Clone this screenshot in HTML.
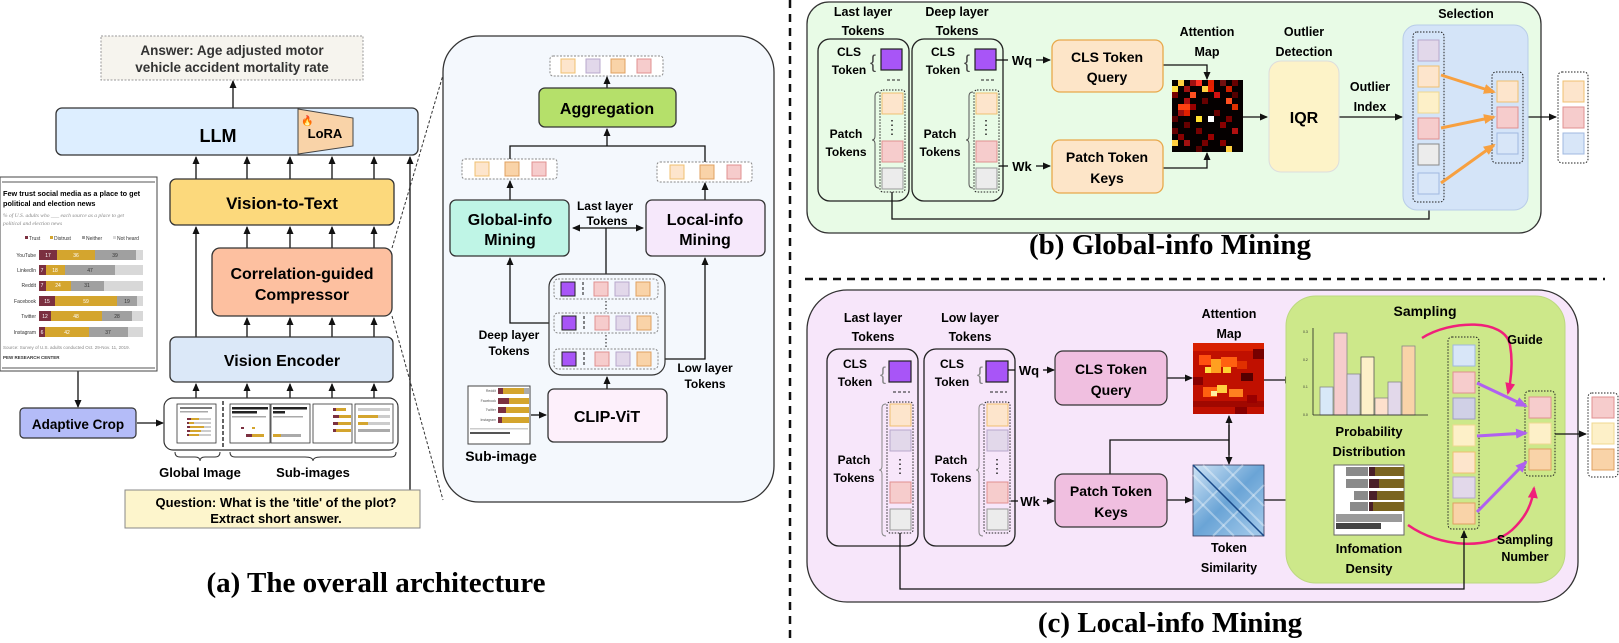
<!DOCTYPE html>
<html><head><meta charset="utf-8"><style>
html,body{margin:0;padding:0;background:#fff;}
svg{display:block;font-family:"Liberation Sans",Arial,sans-serif;}
.b{font-weight:bold;}
.t{font-family:"Liberation Serif",serif;font-weight:bold;}
</style></head><body>
<svg width="1619" height="643" viewBox="0 0 1619 643" xmlns="http://www.w3.org/2000/svg">
<defs>
<marker id="ar" markerWidth="8" markerHeight="8" refX="7" refY="4" orient="auto" markerUnits="userSpaceOnUse"><path d="M0,0.5 L8,4 L0,7.5 z" fill="#111"/></marker>
<marker id="ar2" markerWidth="8" markerHeight="8" refX="1" refY="4" orient="auto" markerUnits="userSpaceOnUse"><path d="M8,0.5 L0,4 L8,7.5 z" fill="#111"/></marker>
<marker id="ao" markerWidth="12" markerHeight="12" refX="10" refY="6" orient="auto" markerUnits="userSpaceOnUse"><path d="M0,1 L12,6 L0,11 z" fill="#f7a040"/></marker>
<marker id="ap" markerWidth="12" markerHeight="12" refX="10" refY="6" orient="auto" markerUnits="userSpaceOnUse"><path d="M0,1 L12,6 L0,11 z" fill="#b060f0"/></marker>
<marker id="am" markerWidth="12" markerHeight="12" refX="10" refY="6" orient="auto" markerUnits="userSpaceOnUse"><path d="M0,1 L12,6 L0,11 z" fill="#f0207a"/></marker>
<linearGradient id="sim" x1="0" y1="0" x2="1" y2="1"><stop offset="0" stop-color="#cfe3f5"/><stop offset="0.5" stop-color="#6aa4d6"/><stop offset="1" stop-color="#a8cdec"/></linearGradient>
</defs>

<!-- ============ PANEL A ============ -->
<rect x="101" y="36" width="262" height="44" fill="#f6f4ee" stroke="#999" stroke-dasharray="2,1.5"/>
<text x="232" y="55" text-anchor="middle" font-size="13.5" class="b" fill="#333">Answer: Age adjusted motor</text>
<text x="232" y="72" text-anchor="middle" font-size="13.5" class="b" fill="#333">vehicle accident mortality rate</text>
<line x1="233" y1="108" x2="233" y2="81" stroke="#111" stroke-width="1.3" marker-end="url(#ar)"/>

<rect x="56" y="108" width="362" height="47" rx="6" fill="#ddeeff" stroke="#333" stroke-width="1.3"/>
<text x="218" y="142" text-anchor="middle" font-size="18" class="b">LLM</text>
<polygon points="298,109 353,118 353,146 298,154" fill="#f9d3a8" stroke="#444" stroke-width="1"/>
<text x="325" y="138" text-anchor="middle" font-size="13" class="b">LoRA</text>
<text x="301" y="124" font-size="10">🔥</text>

<g stroke="#111" stroke-width="1.3" fill="none">
<line x1="196" y1="179" x2="196" y2="157" marker-end="url(#ar)"/>
<line x1="247" y1="179" x2="247" y2="157" marker-end="url(#ar)"/>
<line x1="290" y1="179" x2="290" y2="157" marker-end="url(#ar)"/>
<line x1="332" y1="179" x2="332" y2="157" marker-end="url(#ar)"/>
<line x1="374" y1="179" x2="374" y2="157" marker-end="url(#ar)"/>
<line x1="410" y1="490" x2="410" y2="157" marker-end="url(#ar)"/>
<line x1="196" y1="337" x2="196" y2="227" marker-end="url(#ar)"/>
<line x1="247" y1="248" x2="247" y2="227" marker-end="url(#ar)"/>
<line x1="290" y1="248" x2="290" y2="227" marker-end="url(#ar)"/>
<line x1="332" y1="248" x2="332" y2="227" marker-end="url(#ar)"/>
<line x1="374" y1="248" x2="374" y2="227" marker-end="url(#ar)"/>
<line x1="247" y1="337" x2="247" y2="318" marker-end="url(#ar)"/>
<line x1="290" y1="337" x2="290" y2="318" marker-end="url(#ar)"/>
<line x1="332" y1="337" x2="332" y2="318" marker-end="url(#ar)"/>
<line x1="374" y1="337" x2="374" y2="318" marker-end="url(#ar)"/>
<line x1="196" y1="398" x2="196" y2="384" marker-end="url(#ar)"/>
<line x1="247" y1="398" x2="247" y2="384" marker-end="url(#ar)"/>
<line x1="290" y1="398" x2="290" y2="384" marker-end="url(#ar)"/>
<line x1="332" y1="398" x2="332" y2="384" marker-end="url(#ar)"/>
<line x1="374" y1="398" x2="374" y2="384" marker-end="url(#ar)"/>
<line x1="78" y1="363" x2="78" y2="407" marker-end="url(#ar)"/>
<line x1="137" y1="423" x2="163" y2="423" marker-end="url(#ar)"/>
</g>

<rect x="170" y="179" width="224" height="46" rx="6" fill="#fcd97c" stroke="#333" stroke-width="1.3"/>
<text x="282" y="209" text-anchor="middle" font-size="17" class="b">Vision-to-Text</text>
<rect x="212" y="248" width="180" height="68" rx="8" fill="#fdc0a0" stroke="#333" stroke-width="1.3"/>
<text x="302" y="279" text-anchor="middle" font-size="16" class="b">Correlation-guided</text>
<text x="302" y="300" text-anchor="middle" font-size="16" class="b">Compressor</text>
<rect x="170" y="337" width="223" height="45" rx="6" fill="#dbe8f8" stroke="#333" stroke-width="1.3"/>
<text x="282" y="366" text-anchor="middle" font-size="16" class="b">Vision Encoder</text>

<!-- chart -->
<g>
<rect x="0" y="177" width="157" height="194" fill="#fff" stroke="#444" stroke-width="1"/>
<line x1="2" y1="182" x2="155" y2="182" stroke="#555"/>
<text x="3" y="196" font-size="7.3" class="b">Few trust social media as a place to get</text>
<text x="3" y="206" font-size="7.3" class="b">political and election news</text>
<text x="3" y="217" font-size="5.5" font-style="italic" fill="#888" font-family="Liberation Serif">% of U.S. adults who ___ each source as a place to get</text>
<text x="3" y="225" font-size="5.5" font-style="italic" fill="#888" font-family="Liberation Serif">political and election news</text>
<g font-size="5" fill="#333">
<rect x="25" y="236" width="3" height="3" fill="#7b3040"/><text x="29" y="240">Trust</text>
<rect x="50" y="236" width="3" height="3" fill="#d4a52e"/><text x="54" y="240">Distrust</text>
<rect x="82" y="236" width="3" height="3" fill="#a0a0a0"/><text x="86" y="240">Neither</text>
<rect x="113" y="236" width="3" height="3" fill="#d8d8d8"/><text x="117" y="240">Not heard</text>
</g>
<g font-size="5" fill="#333" text-anchor="end">
<text x="36" y="257">YouTube</text><text x="36" y="272">LinkedIn</text><text x="36" y="287">Reddit</text>
<text x="36" y="303">Facebook</text><text x="36" y="318">Twitter</text><text x="36" y="334">Instagram</text>
</g>
<g>
<rect x="39" y="250" width="104" height="10" fill="#d8d8d8"/><rect x="39" y="250" width="18" height="10" fill="#7b3040"/><rect x="57" y="250" width="38" height="10" fill="#d4a52e"/><rect x="95" y="250" width="41" height="10" fill="#a0a0a0"/>
<rect x="39" y="265" width="104" height="10" fill="#d8d8d8"/><rect x="39" y="265" width="7" height="10" fill="#7b3040"/><rect x="46" y="265" width="19" height="10" fill="#d4a52e"/><rect x="65" y="265" width="50" height="10" fill="#a0a0a0"/>
<rect x="39" y="281" width="104" height="10" fill="#d8d8d8"/><rect x="39" y="281" width="7" height="10" fill="#7b3040"/><rect x="46" y="281" width="25" height="10" fill="#d4a52e"/><rect x="71" y="281" width="33" height="10" fill="#a0a0a0"/>
<rect x="39" y="296" width="104" height="10" fill="#d8d8d8"/><rect x="39" y="296" width="16" height="10" fill="#7b3040"/><rect x="55" y="296" width="62" height="10" fill="#d4a52e"/><rect x="117" y="296" width="20" height="10" fill="#a0a0a0"/>
<rect x="39" y="311" width="104" height="10" fill="#d8d8d8"/><rect x="39" y="311" width="12" height="10" fill="#7b3040"/><rect x="51" y="311" width="51" height="10" fill="#d4a52e"/><rect x="102" y="311" width="30" height="10" fill="#a0a0a0"/>
<rect x="39" y="327" width="104" height="10" fill="#d8d8d8"/><rect x="39" y="327" width="6" height="10" fill="#7b3040"/><rect x="45" y="327" width="44" height="10" fill="#d4a52e"/><rect x="89" y="327" width="39" height="10" fill="#a0a0a0"/>
</g>
<g font-size="5" fill="#fff" text-anchor="middle">
<text x="48" y="257">17</text><text x="76" y="257">36</text><text x="115" y="257" fill="#333">39</text>
<text x="42" y="272">7</text><text x="55" y="272">18</text><text x="90" y="272" fill="#333">47</text>
<text x="42" y="287">7</text><text x="58" y="287">24</text><text x="87" y="287" fill="#333">31</text>
<text x="47" y="303">15</text><text x="86" y="303">59</text><text x="127" y="303" fill="#333">19</text>
<text x="45" y="318">12</text><text x="76" y="318">48</text><text x="117" y="318" fill="#333">28</text>
<text x="42" y="334">6</text><text x="67" y="334">42</text><text x="108" y="334" fill="#333">37</text>
</g>
<text x="3" y="349" font-size="4.5" fill="#888">Source: Survey of U.S. adults conducted Oct. 29-Nov. 11, 2019.</text>
<text x="3" y="359" font-size="4.5" class="b" fill="#333">PEW RESEARCH CENTER</text>
<line x1="2" y1="368" x2="155" y2="368" stroke="#555"/>
</g>

<rect x="20" y="408" width="116" height="30" rx="4" fill="#b4bcf8" stroke="#333" stroke-width="1.2"/>
<text x="78" y="429" text-anchor="middle" font-size="13.5" class="b">Adaptive Crop</text>

<rect x="164" y="398" width="234" height="52" rx="9" fill="#fff" stroke="#333" stroke-width="1.2"/>
<line x1="223" y1="401" x2="223" y2="447" stroke="#111" stroke-width="1.3" stroke-dasharray="4,2"/>
<g stroke="#333" stroke-width="0.8">
<rect x="177" y="404" width="39" height="39" fill="#fff"/>
<rect x="230" y="404" width="40" height="39" fill="#fff"/>
<rect x="271" y="404" width="39" height="39" fill="#fff"/>
<rect x="313" y="404" width="39" height="39" fill="#fff"/>
<rect x="355" y="404" width="38" height="39" fill="#fff"/>
</g>
<g>
<rect x="180" y="407" width="32" height="2" fill="#777"/><rect x="180" y="411" width="28" height="1.5" fill="#aaa"/>
<rect x="187" y="418" width="24" height="2" fill="#ccc"/><rect x="187" y="418" width="4" height="2" fill="#7b3040"/><rect x="191" y="418" width="8" height="2" fill="#d4a52e"/>
<rect x="187" y="422" width="24" height="2" fill="#ccc"/><rect x="187" y="422" width="2" height="2" fill="#7b3040"/><rect x="189" y="422" width="5" height="2" fill="#d4a52e"/>
<rect x="187" y="426" width="24" height="2" fill="#ccc"/><rect x="187" y="426" width="3" height="2" fill="#7b3040"/><rect x="190" y="426" width="14" height="2" fill="#d4a52e"/>
<rect x="187" y="430" width="24" height="2" fill="#ccc"/><rect x="187" y="430" width="3" height="2" fill="#7b3040"/><rect x="190" y="430" width="11" height="2" fill="#d4a52e"/>
<rect x="187" y="434" width="24" height="2" fill="#ccc"/><rect x="187" y="434" width="2" height="2" fill="#7b3040"/><rect x="189" y="434" width="10" height="2" fill="#d4a52e"/>
<rect x="232" y="407" width="36" height="2.5" fill="#222"/><rect x="232" y="411" width="25" height="2.5" fill="#222"/><rect x="232" y="416" width="34" height="1.5" fill="#aaa"/>
<rect x="241" y="427" width="3" height="2" fill="#7b3040"/><rect x="252" y="427" width="3" height="2" fill="#d4a52e"/>
<rect x="246" y="434" width="6" height="3" fill="#7b3040"/><rect x="252" y="434" width="12" height="3" fill="#d4a52e"/>
<rect x="273" y="407" width="34" height="2.5" fill="#222"/><rect x="273" y="411" width="12" height="2.5" fill="#222"/><rect x="273" y="416" width="30" height="1.5" fill="#aaa"/>
<rect x="273" y="434" width="8" height="3" fill="#d4a52e"/><rect x="281" y="434" width="20" height="3" fill="#aaa"/>
<rect x="333" y="408" width="3" height="3" fill="#7b3040"/><rect x="336" y="408" width="10" height="3" fill="#d4a52e"/>
<rect x="333" y="415" width="6" height="3" fill="#7b3040"/><rect x="339" y="415" width="12" height="3" fill="#d4a52e"/>
<rect x="333" y="422" width="5" height="3" fill="#7b3040"/><rect x="338" y="422" width="13" height="3" fill="#d4a52e"/>
<rect x="333" y="429" width="3" height="3" fill="#7b3040"/><rect x="336" y="429" width="15" height="3" fill="#d4a52e"/>
<rect x="358" y="408" width="32" height="3" fill="#ccc"/><rect x="358" y="415" width="32" height="3" fill="#ccc"/><rect x="358" y="415" width="20" height="3" fill="#d4a52e"/>
<rect x="358" y="422" width="32" height="3" fill="#ccc"/><rect x="358" y="422" width="10" height="3" fill="#d4a52e"/>
<rect x="358" y="429" width="32" height="3" fill="#aaa"/>
</g>
<path d="M175,452 q0,5 5,5 h15 q5,0 5,4 q0,-4 5,-4 h10 q5,0 5,-5" fill="none" stroke="#333" stroke-width="1"/>
<path d="M230,452 q0,5 5,5 h70 q8,0 8,4 q0,-4 8,-4 h70 q5,0 5,-5" fill="none" stroke="#333" stroke-width="1"/>
<text x="200" y="477" text-anchor="middle" font-size="13" class="b">Global Image</text>
<text x="313" y="477" text-anchor="middle" font-size="13" class="b">Sub-images</text>

<rect x="125" y="490" width="295" height="38" fill="#fdf5cc" stroke="#888" stroke-width="1"/>
<text x="276" y="507" text-anchor="middle" font-size="13" class="b">Question: What is the 'title' of the plot?</text>
<text x="276" y="523" text-anchor="middle" font-size="13" class="b">Extract short answer.</text>

<line x1="392" y1="248" x2="443" y2="75" stroke="#333" stroke-width="1" stroke-dasharray="3,2"/>
<line x1="392" y1="316" x2="443" y2="500" stroke="#333" stroke-width="1" stroke-dasharray="3,2"/>

<!-- zoom panel -->
<rect x="443" y="36" width="331" height="466" rx="36" fill="#f4f8fd" stroke="#333" stroke-width="1.3"/>
<rect x="550" y="56" width="113" height="20" rx="3" fill="#fff" stroke="#888" stroke-dasharray="2,1.5"/>
<rect x="561" y="59" width="14" height="14" fill="#fde5cc" stroke="#f0c070"/>
<rect x="586" y="59" width="14" height="14" fill="#e2d8ea" stroke="#b8a8cc"/>
<rect x="611" y="59" width="14" height="14" fill="#f9d3a8" stroke="#e0a060"/>
<rect x="637" y="59" width="14" height="14" fill="#f6cccc" stroke="#e09090"/>
<line x1="607" y1="88" x2="607" y2="77" stroke="#111" stroke-width="1.3" marker-end="url(#ar)"/>
<rect x="539" y="88" width="137" height="39" rx="6" fill="#b5e06a" stroke="#333" stroke-width="1.3"/>
<text x="607" y="114" text-anchor="middle" font-size="16" class="b">Aggregation</text>
<g stroke="#111" stroke-width="1.3" fill="none">
<line x1="607" y1="146" x2="607" y2="129" marker-end="url(#ar)"/>
<polyline points="510,159 510,146 705,146 705,162"/>
<line x1="510" y1="200" x2="510" y2="181" marker-end="url(#ar)"/>
<line x1="705" y1="200" x2="705" y2="183" marker-end="url(#ar)"/>
<line x1="573" y1="228" x2="643" y2="228" marker-start="url(#ar2)" marker-end="url(#ar)"/>
<line x1="606" y1="228" x2="606" y2="279"/>
<polyline points="554,323 510,323 510,258" marker-end="url(#ar)"/>
<polyline points="658,359 705,359 705,258" marker-end="url(#ar)"/>
<line x1="607" y1="389" x2="607" y2="377" marker-end="url(#ar)"/>
<line x1="531" y1="415" x2="546" y2="415" marker-end="url(#ar)"/>
</g>
<rect x="462" y="159" width="95" height="20" rx="3" fill="#fff" stroke="#888" stroke-dasharray="2,1.5"/>
<rect x="475" y="162" width="14" height="14" fill="#fde5cc" stroke="#f0c070"/>
<rect x="505" y="162" width="14" height="14" fill="#f9d3a8" stroke="#e0a060"/>
<rect x="532" y="162" width="14" height="14" fill="#f6cccc" stroke="#e09090"/>
<rect x="657" y="162" width="95" height="20" rx="3" fill="#fff" stroke="#888" stroke-dasharray="2,1.5"/>
<rect x="670" y="165" width="14" height="14" fill="#fde5cc" stroke="#f0c070"/>
<rect x="700" y="165" width="14" height="14" fill="#f9d3a8" stroke="#e0a060"/>
<rect x="727" y="165" width="14" height="14" fill="#f6cccc" stroke="#e09090"/>
<rect x="450" y="200" width="119" height="56" rx="6" fill="#bff5e6" stroke="#333" stroke-width="1.3"/>
<text x="510" y="225" text-anchor="middle" font-size="16" class="b">Global-info</text>
<text x="510" y="245" text-anchor="middle" font-size="16" class="b">Mining</text>
<rect x="646" y="200" width="119" height="56" rx="6" fill="#f6e8fb" stroke="#333" stroke-width="1.3"/>
<text x="705" y="225" text-anchor="middle" font-size="16" class="b">Local-info</text>
<text x="705" y="245" text-anchor="middle" font-size="16" class="b">Mining</text>
<text x="605" y="210" text-anchor="middle" font-size="12" class="b">Last layer</text>
<text x="607" y="225" text-anchor="middle" font-size="12" class="b">Tokens</text>
<rect x="549" y="274" width="116" height="101" rx="13" fill="#f4f8fd" stroke="#333" stroke-width="1.2"/>
<g>
<rect x="554" y="279" width="104" height="20" rx="4" fill="#f4f8fd" stroke="#888" stroke-dasharray="2,1.5"/>
<rect x="554" y="313" width="104" height="20" rx="4" fill="#f4f8fd" stroke="#888" stroke-dasharray="2,1.5"/>
<rect x="554" y="349" width="104" height="20" rx="4" fill="#f4f8fd" stroke="#888" stroke-dasharray="2,1.5"/>
<rect x="561" y="282" width="14" height="14" fill="#a855f7" stroke="#222"/>
<rect x="562" y="316" width="14" height="14" fill="#a855f7" stroke="#222"/>
<rect x="562" y="352" width="14" height="14" fill="#a855f7" stroke="#222"/>
<g stroke="#111" stroke-dasharray="3,2"><line x1="583" y1="282" x2="583" y2="297"/><line x1="584" y1="316" x2="584" y2="331"/><line x1="584" y1="352" x2="584" y2="367"/></g>
<rect x="594" y="282" width="14" height="14" fill="#f6cccc" stroke="#e09090"/><rect x="615" y="282" width="14" height="14" fill="#e2d8ea" stroke="#b8a8cc"/><rect x="636" y="282" width="14" height="14" fill="#f9d3a8" stroke="#e0a060"/>
<rect x="595" y="316" width="14" height="14" fill="#f6cccc" stroke="#e09090"/><rect x="616" y="316" width="14" height="14" fill="#e2d8ea" stroke="#b8a8cc"/><rect x="637" y="316" width="14" height="14" fill="#f9d3a8" stroke="#e0a060"/>
<rect x="595" y="352" width="14" height="14" fill="#f6cccc" stroke="#e09090"/><rect x="616" y="352" width="14" height="14" fill="#e2d8ea" stroke="#b8a8cc"/><rect x="637" y="352" width="14" height="14" fill="#f9d3a8" stroke="#e0a060"/>
<g stroke="#111" stroke-dasharray="1.5,2"><line x1="606" y1="301" x2="606" y2="312"/><line x1="606" y1="335" x2="606" y2="348"/></g>
</g>
<text x="509" y="339" text-anchor="middle" font-size="12" class="b">Deep layer</text>
<text x="509" y="355" text-anchor="middle" font-size="12" class="b">Tokens</text>
<text x="705" y="372" text-anchor="middle" font-size="12" class="b">Low layer</text>
<text x="705" y="388" text-anchor="middle" font-size="12" class="b">Tokens</text>
<rect x="548" y="389" width="119" height="53" rx="6" fill="#fdf0fb" stroke="#333" stroke-width="1.3"/>
<text x="607" y="422" text-anchor="middle" font-size="16" class="b">CLIP-ViT</text>
<rect x="468" y="386" width="62" height="58" fill="#fff" stroke="#444"/>
<g font-size="3.5" fill="#555" text-anchor="end"><text x="496" y="392">Reddit</text><text x="496" y="402">Facebook</text><text x="496" y="411">Twitter</text><text x="496" y="421">Instagram</text></g>
<rect x="498" y="388" width="5" height="6" fill="#7b3040"/><rect x="503" y="388" width="21" height="6" fill="#d4a52e"/><rect x="524" y="388" width="5" height="6" fill="#aaa"/>
<rect x="498" y="398" width="11" height="6" fill="#7b3040"/><rect x="509" y="398" width="20" height="6" fill="#d4a52e"/>
<rect x="498" y="407" width="8" height="6" fill="#7b3040"/><rect x="506" y="407" width="23" height="6" fill="#d4a52e"/>
<rect x="498" y="417" width="4" height="6" fill="#7b3040"/><rect x="502" y="417" width="27" height="6" fill="#d4a52e"/>
<rect x="470" y="428" width="58" height="1.5" fill="#ccc"/><rect x="470" y="432" width="40" height="2" fill="#555"/>
<text x="501" y="461" text-anchor="middle" font-size="14" class="b">Sub-image</text>

<text x="376" y="592" text-anchor="middle" font-size="29" class="t">(a) The overall architecture</text>

<!-- dividers -->
<line x1="790" y1="0" x2="790" y2="643" stroke="#111" stroke-width="2.5" stroke-dasharray="8,6"/>
<line x1="805" y1="279" x2="1605" y2="279" stroke="#111" stroke-width="2.5" stroke-dasharray="8,6"/>

<!-- ============ PANEL B ============ -->
<rect x="807" y="2" width="734" height="231" rx="22" fill="#e8fbe6" stroke="#333" stroke-width="1.3"/>
<g class="b" font-size="12.5" text-anchor="middle">
<text x="863" y="16">Last layer</text><text x="863" y="35">Tokens</text>
<text x="957" y="16">Deep layer</text><text x="957" y="35">Tokens</text>
<text x="1207" y="36">Attention</text><text x="1207" y="56">Map</text>
<text x="1304" y="36">Outlier</text><text x="1304" y="56">Detection</text>
<text x="1370" y="91">Outlier</text><text x="1370" y="111">Index</text>
<text x="1466" y="18">Selection</text>
</g>
<g id="grpB">
<rect x="818" y="39" width="91" height="162" rx="12" fill="none" stroke="#222" stroke-width="1.3"/>
<text x="849" y="56" text-anchor="middle" font-size="12" class="b">CLS</text>
<text x="849" y="74" text-anchor="middle" font-size="12" class="b">Token</text>
<text x="870" y="68" font-size="18" fill="#444">{</text>
<rect x="881" y="49" width="21" height="21" fill="#a855f7" stroke="#222" stroke-width="1.2"/>
<line x1="887" y1="80" x2="902" y2="80" stroke="#222" stroke-dasharray="3,2"/>
<text x="846" y="138" text-anchor="middle" font-size="12" class="b">Patch</text>
<text x="846" y="156" text-anchor="middle" font-size="12" class="b">Tokens</text>
<path d="M879,92 q-4,0 -4,4 v40 q0,4 -3,4 q3,0 3,4 v40 q0,4 4,4" fill="none" stroke="#555"/>
<rect x="880" y="90" width="25" height="102" rx="3" fill="none" stroke="#222" stroke-dasharray="1.5,1.5"/>
<rect x="882" y="93" width="21" height="21" fill="#fde5cc" stroke="#f0c070"/>
<line x1="892" y1="120" x2="892" y2="137" stroke="#222" stroke-width="1.5" stroke-dasharray="1.5,3"/>
<rect x="882" y="141" width="21" height="21" fill="#f6cccc" stroke="#e09090"/>
<rect x="882" y="168" width="21" height="21" fill="#ececec" stroke="#999"/>
</g>
<use href="#grpB" x="94"/>
<g stroke="#111" stroke-width="1.3" fill="none">
<polyline points="996,60 1008,60"/><line x1="1036" y1="60" x2="1050" y2="60" marker-end="url(#ar)"/>
<polyline points="999,166 1008,166"/><line x1="1036" y1="166" x2="1050" y2="166" marker-end="url(#ar)"/>
<polyline points="1163,65 1207,65 1207,79" marker-end="url(#ar)"/>
<polyline points="1163,168 1207,168 1207,153" marker-end="url(#ar)"/>
<line x1="1243" y1="117" x2="1267" y2="117" marker-end="url(#ar)"/>
<line x1="1339" y1="117" x2="1402" y2="117" marker-end="url(#ar)"/>
<polyline points="892,192 892,219 1429,219 1429,203" marker-end="url(#ar)"/>
<line x1="1523" y1="117" x2="1556" y2="117" marker-end="url(#ar)"/>
</g>
<text x="1022" y="65" text-anchor="middle" font-size="13" class="b">Wq</text>
<text x="1022" y="171" text-anchor="middle" font-size="13" class="b">Wk</text>
<rect x="1052" y="40" width="111" height="52" rx="8" fill="#fde5c8" stroke="#e8a84a" stroke-width="1.3"/>
<text x="1107" y="62" text-anchor="middle" font-size="14" class="b">CLS Token</text>
<text x="1107" y="82" text-anchor="middle" font-size="14" class="b">Query</text>
<rect x="1052" y="140" width="111" height="53" rx="8" fill="#fde5c8" stroke="#e8a84a" stroke-width="1.3"/>
<text x="1107" y="162" text-anchor="middle" font-size="14" class="b">Patch Token</text>
<text x="1107" y="183" text-anchor="middle" font-size="14" class="b">Keys</text>
<!-- attention map b -->
<rect x="1172" y="80" width="71" height="72" fill="#050000"/>
<g>
<rect x="1178" y="80" width="6" height="6" fill="#ffd040"/><rect x="1190" y="80" width="6" height="6" fill="#a01010"/><rect x="1196" y="80" width="6" height="6" fill="#ff3020"/><rect x="1208" y="80" width="6" height="6" fill="#e02000"/><rect x="1220" y="80" width="6" height="6" fill="#701010"/><rect x="1232" y="80" width="6" height="6" fill="#600"/>
<rect x="1172" y="86" width="6" height="6" fill="#ffe040"/><rect x="1184" y="86" width="6" height="6" fill="#a01010"/><rect x="1202" y="86" width="6" height="6" fill="#ffd040"/><rect x="1226" y="86" width="6" height="6" fill="#d02000"/><rect x="1208" y="86" width="6" height="6" fill="#e62000"/>
<rect x="1172" y="92" width="6" height="6" fill="#700"/><rect x="1190" y="92" width="6" height="6" fill="#ff5020"/><rect x="1214" y="92" width="6" height="6" fill="#d01010"/><rect x="1232" y="92" width="6" height="6" fill="#500"/>
<rect x="1184" y="98" width="6" height="6" fill="#b01010"/><rect x="1202" y="98" width="6" height="6" fill="#600"/><rect x="1226" y="98" width="6" height="6" fill="#ff5020"/>
<rect x="1178" y="104" width="12" height="6" fill="#ff4010"/><rect x="1190" y="104" width="6" height="6" fill="#900"/><rect x="1232" y="104" width="6" height="6" fill="#e03000"/>
<rect x="1178" y="110" width="6" height="6" fill="#a01010"/><rect x="1184" y="110" width="6" height="6" fill="#e02000"/><rect x="1214" y="110" width="6" height="6" fill="#600"/>
<rect x="1172" y="116" width="6" height="6" fill="#500"/><rect x="1196" y="116" width="6" height="6" fill="#ffe030"/><rect x="1208" y="116" width="6" height="6" fill="#fff"/><rect x="1226" y="116" width="6" height="6" fill="#700"/>
<rect x="1184" y="122" width="6" height="6" fill="#600"/><rect x="1220" y="122" width="6" height="6" fill="#800"/>
<rect x="1172" y="128" width="6" height="6" fill="#600"/><rect x="1196" y="128" width="6" height="6" fill="#700"/><rect x="1232" y="128" width="6" height="6" fill="#b01010"/>
<rect x="1178" y="134" width="6" height="6" fill="#800"/><rect x="1208" y="134" width="6" height="6" fill="#900"/>
<rect x="1172" y="140" width="6" height="6" fill="#ffd040"/><rect x="1184" y="140" width="6" height="6" fill="#a01010"/><rect x="1202" y="140" width="6" height="6" fill="#700"/><rect x="1220" y="140" width="6" height="6" fill="#800"/>
<rect x="1226" y="146" width="6" height="6" fill="#ffd040"/><rect x="1196" y="146" width="6" height="6" fill="#500"/>
</g>
<rect x="1269" y="61" width="70" height="111" rx="12" fill="#fdf3c8" stroke="#ddd"/>
<text x="1304" y="123" text-anchor="middle" font-size="16" class="b">IQR</text>
<rect x="1403" y="25" width="125" height="185" rx="14" fill="#d4e4f8" stroke="#b8cce8"/>
<rect x="1413" y="32" width="31" height="170" rx="4" fill="none" stroke="#222" stroke-dasharray="1.5,1.5"/>
<rect x="1418" y="40" width="21" height="21" fill="#e2d8ea" stroke="#b8a8cc"/>
<rect x="1418" y="66" width="21" height="21" fill="#fde5cc" stroke="#f0c070"/>
<rect x="1418" y="92" width="21" height="21" fill="#fdf0c8" stroke="#f0d890"/>
<rect x="1418" y="118" width="21" height="21" fill="#f6cccc" stroke="#e09090"/>
<rect x="1418" y="144" width="21" height="21" fill="#ececec" stroke="#888"/>
<rect x="1418" y="173" width="21" height="21" fill="#d8e6f8" stroke="#a0b8e0"/>
<rect x="1492" y="72" width="31" height="91" rx="4" fill="none" stroke="#222" stroke-dasharray="1.5,1.5"/>
<rect x="1497" y="81" width="21" height="21" fill="#fde5cc" stroke="#f0c070"/>
<rect x="1497" y="107" width="21" height="21" fill="#f6cccc" stroke="#e09090"/>
<rect x="1497" y="133" width="21" height="21" fill="#d8e6f8" stroke="#a0b8e0"/>
<g stroke="#f7a040" stroke-width="3" fill="none">
<line x1="1441" y1="75" x2="1494" y2="92" marker-end="url(#ao)"/>
<line x1="1441" y1="128" x2="1494" y2="117" marker-end="url(#ao)"/>
<line x1="1441" y1="183" x2="1494" y2="145" marker-end="url(#ao)"/>
</g>
<rect x="1558" y="72" width="30" height="91" rx="4" fill="#fff" stroke="#222" stroke-dasharray="1.5,1.5"/>
<rect x="1563" y="81" width="21" height="21" fill="#fde5cc" stroke="#f0c070"/>
<rect x="1563" y="107" width="21" height="21" fill="#f6cccc" stroke="#e09090"/>
<rect x="1563" y="133" width="21" height="21" fill="#d8e6f8" stroke="#a0b8e0"/>
<text x="1170" y="254" text-anchor="middle" font-size="29" class="t">(b) Global-info Mining</text>

<!-- ============ PANEL C ============ -->
<rect x="807" y="290" width="771" height="312" rx="40" fill="#f7e6fa" stroke="#333" stroke-width="1.3"/>
<g class="b" font-size="12.5" text-anchor="middle">
<text x="873" y="322">Last layer</text><text x="873" y="341">Tokens</text>
<text x="970" y="322">Low layer</text><text x="970" y="341">Tokens</text>
<text x="1229" y="318">Attention</text><text x="1229" y="338">Map</text>
<text x="1229" y="552">Token</text><text x="1229" y="572">Similarity</text>
</g>
<g id="grpC">
<rect x="827" y="349" width="91" height="197" rx="12" fill="none" stroke="#222" stroke-width="1.3"/>
<text x="855" y="368" text-anchor="middle" font-size="12" class="b">CLS</text>
<text x="855" y="386" text-anchor="middle" font-size="12" class="b">Token</text>
<text x="880" y="380" font-size="18" fill="#888">{</text>
<rect x="889" y="361" width="22" height="21" fill="#a855f7" stroke="#222" stroke-width="1.2"/>
<line x1="893" y1="392" x2="910" y2="392" stroke="#222" stroke-dasharray="3,2"/>
<text x="854" y="464" text-anchor="middle" font-size="12" class="b">Patch</text>
<text x="854" y="482" text-anchor="middle" font-size="12" class="b">Tokens</text>
<path d="M886,404 q-4,0 -4,4 v58 q0,4 -3,4 q3,0 3,4 v58 q0,4 4,4" fill="none" stroke="#888"/>
<rect x="887" y="402" width="26" height="131" rx="3" fill="none" stroke="#222" stroke-dasharray="1.5,1.5"/>
<rect x="890" y="404" width="21" height="22" fill="#fde5cc" stroke="#f0c070"/>
<rect x="890" y="430" width="21" height="21" fill="#e2d8ea" stroke="#b8a8cc"/>
<line x1="900" y1="459" x2="900" y2="477" stroke="#222" stroke-width="1.5" stroke-dasharray="1.5,3"/>
<rect x="890" y="482" width="21" height="21" fill="#f6cccc" stroke="#e09090"/>
<rect x="890" y="509" width="21" height="21" fill="#ececec" stroke="#999"/>
</g>
<use href="#grpC" x="97"/>
<g stroke="#111" stroke-width="1.3" fill="none">
<line x1="1008" y1="370" x2="1015" y2="370"/><line x1="1043" y1="370" x2="1054" y2="370" marker-end="url(#ar)"/>
<line x1="1011" y1="501" x2="1018" y2="501"/><line x1="1043" y1="501" x2="1054" y2="501" marker-end="url(#ar)"/>
<line x1="1167" y1="378" x2="1192" y2="378" marker-end="url(#ar)"/>
<line x1="1167" y1="500" x2="1192" y2="500" marker-end="url(#ar)"/>
<polyline points="1110,474 1110,440 1229,440"/>
<line x1="1229" y1="425" x2="1229" y2="455"/>
<line x1="1229" y1="440" x2="1229" y2="416" marker-end="url(#ar)"/>
<line x1="1229" y1="440" x2="1229" y2="464" marker-end="url(#ar)"/>
<line x1="1264" y1="380" x2="1292" y2="380" marker-end="url(#ar)"/>
<line x1="1264" y1="500" x2="1332" y2="500" marker-end="url(#ar)"/>
</g>
<text x="1029" y="375" text-anchor="middle" font-size="13" class="b">Wq</text>
<text x="1030" y="506" text-anchor="middle" font-size="13" class="b">Wk</text>
<rect x="1055" y="351" width="112" height="54" rx="8" fill="#f0bfe0" stroke="#333" stroke-width="1.2"/>
<text x="1111" y="374" text-anchor="middle" font-size="14" class="b">CLS Token</text>
<text x="1111" y="395" text-anchor="middle" font-size="14" class="b">Query</text>
<rect x="1055" y="474" width="112" height="53" rx="8" fill="#f0bfe0" stroke="#333" stroke-width="1.2"/>
<text x="1111" y="496" text-anchor="middle" font-size="14" class="b">Patch Token</text>
<text x="1111" y="517" text-anchor="middle" font-size="14" class="b">Keys</text>
<!-- attention map c -->
<rect x="1193" y="343" width="71" height="71" fill="#c01000"/>
<g>
<rect x="1193" y="343" width="71" height="8" fill="#d82000"/>
<rect x="1199" y="355" width="12" height="10" fill="#ff5010"/><rect x="1211" y="359" width="10" height="14" fill="#ffa020"/><rect x="1221" y="357" width="16" height="10" fill="#ff6010"/>
<rect x="1205" y="367" width="6" height="6" fill="#ffe040"/><rect x="1223" y="367" width="8" height="6" fill="#ffd030"/><rect x="1237" y="361" width="10" height="8" fill="#e03000"/>
<rect x="1193" y="377" width="10" height="8" fill="#800"/><rect x="1241" y="373" width="12" height="8" fill="#500"/><rect x="1253" y="349" width="11" height="10" fill="#700"/>
<rect x="1203" y="387" width="14" height="10" fill="#ff6010"/><rect x="1217" y="385" width="10" height="8" fill="#ffd040"/><rect x="1229" y="389" width="14" height="8" fill="#ff8020"/>
<rect x="1211" y="391" width="6" height="5" fill="#fff0a0"/><rect x="1193" y="401" width="71" height="6" fill="#a00800"/><rect x="1247" y="395" width="10" height="8" fill="#900"/>
<rect x="1235" y="407" width="12" height="7" fill="#800"/>
</g>
<rect x="1193" y="465" width="71" height="71" fill="url(#sim)" stroke="#335" stroke-width="0.8"/>
<g stroke="#fff" stroke-opacity="0.35" stroke-width="2">
<line x1="1193" y1="475" x2="1254" y2="536"/><line x1="1203" y1="465" x2="1264" y2="526"/><line x1="1193" y1="495" x2="1234" y2="536"/><line x1="1223" y1="465" x2="1264" y2="506"/>
<line x1="1193" y1="515" x2="1243" y2="465"/><line x1="1213" y1="536" x2="1264" y2="485"/>
</g>
<line x1="1193" y1="465" x2="1264" y2="536" stroke="#1a4a8a" stroke-width="1.5"/>

<rect x="1286" y="296" width="279" height="287" rx="30" fill="#cde88a" stroke="#bcd880"/>
<text x="1425" y="316" text-anchor="middle" font-size="14" class="b">Sampling</text>
<!-- bar chart -->
<g stroke="#888" stroke-width="0.8">
<rect x="1320" y="387" width="13" height="28" fill="#d8e8f8"/>
<rect x="1334" y="333" width="13" height="82" fill="#f6cccc"/>
<rect x="1347" y="374" width="13" height="41" fill="#d8d4ea"/>
<rect x="1361" y="357" width="13" height="58" fill="#fdf0c8" stroke="#555"/>
<rect x="1375" y="398" width="13" height="17" fill="#fde0cc"/>
<rect x="1388" y="382" width="13" height="33" fill="#e2d8ea"/>
<rect x="1402" y="346" width="13" height="69" fill="#f9d3a8"/>
</g>
<g stroke="#222" stroke-width="0.8"><line x1="1313" y1="328" x2="1313" y2="415"/><line x1="1313" y1="415" x2="1428" y2="415"/></g>
<g font-size="3.5" fill="#333"><text x="1303" y="333">0.3</text><text x="1303" y="361">0.2</text><text x="1303" y="388">0.1</text><text x="1303" y="416">0.0</text></g>
<text x="1369" y="436" text-anchor="middle" font-size="13" class="b">Probability</text>
<text x="1369" y="456" text-anchor="middle" font-size="13" class="b">Distribution</text>
<!-- info density -->
<rect x="1334" y="465" width="70" height="70" fill="#fff" stroke="#666"/>
<g>
<rect x="1369" y="467" width="35" height="9" fill="#7a6420"/><rect x="1369" y="467" width="6" height="9" fill="#4a2028"/>
<rect x="1369" y="479" width="35" height="9" fill="#7a6420"/><rect x="1369" y="479" width="10" height="9" fill="#4a2028"/>
<rect x="1369" y="491" width="35" height="9" fill="#7a6420"/><rect x="1369" y="491" width="8" height="9" fill="#4a2028"/>
<rect x="1369" y="502" width="35" height="9" fill="#7a6420"/><rect x="1369" y="502" width="4" height="9" fill="#4a2028"/>
<rect x="1346" y="467" width="22" height="9" fill="#8a8a8a"/><rect x="1346" y="479" width="22" height="9" fill="#8a8a8a"/><rect x="1354" y="491" width="14" height="9" fill="#8a8a8a"/><rect x="1350" y="502" width="18" height="9" fill="#8a8a8a"/>
<rect x="1336" y="514" width="66" height="8" fill="#9a9a9a"/><rect x="1336" y="523" width="45" height="6" fill="#444"/>
</g>
<text x="1369" y="553" text-anchor="middle" font-size="13" class="b">Infomation</text>
<text x="1369" y="573" text-anchor="middle" font-size="13" class="b">Density</text>
<!-- token columns -->
<rect x="1448" y="337" width="31" height="192" rx="4" fill="none" stroke="#222" stroke-dasharray="1.5,1.5"/>
<rect x="1453" y="345" width="22" height="21" fill="#d8e6f8" stroke="#a0b8e0"/>
<rect x="1453" y="372" width="22" height="21" fill="#f6cccc" stroke="#e09090"/>
<rect x="1453" y="398" width="22" height="21" fill="#d0d0e6" stroke="#a0a0c0"/>
<rect x="1453" y="425" width="22" height="21" fill="#fdf0c8" stroke="#f0d890"/>
<rect x="1453" y="452" width="22" height="21" fill="#fde5cc" stroke="#f0c070"/>
<rect x="1453" y="477" width="22" height="21" fill="#e2d8ea" stroke="#b8a8cc"/>
<rect x="1453" y="503" width="22" height="21" fill="#f9d3a8" stroke="#e0a060"/>
<rect x="1525" y="391" width="30" height="85" rx="4" fill="none" stroke="#222" stroke-dasharray="1.5,1.5"/>
<rect x="1529" y="397" width="22" height="21" fill="#f6cccc" stroke="#e09090"/>
<rect x="1529" y="423" width="22" height="21" fill="#fdf0c8" stroke="#f0d890"/>
<rect x="1529" y="449" width="22" height="21" fill="#f9d3a8" stroke="#e0a060"/>
<g stroke="#b060f0" stroke-width="3" fill="none">
<line x1="1477" y1="383" x2="1526" y2="406" marker-end="url(#ap)"/>
<line x1="1477" y1="436" x2="1526" y2="433" marker-end="url(#ap)"/>
<line x1="1477" y1="512" x2="1526" y2="462" marker-end="url(#ap)"/>
</g>
<g stroke="#f0207a" stroke-width="2.5" fill="none">
<path d="M1422,338 C1450,320 1505,318 1510,345 C1513,362 1511,380 1508,393" marker-end="url(#am)"/>
<path d="M1408,525 C1440,548 1490,550 1512,530 C1525,518 1532,505 1534,488" marker-end="url(#am)"/>
</g>
<text x="1525" y="344" text-anchor="middle" font-size="12.5" class="b">Guide</text>
<text x="1525" y="544" text-anchor="middle" font-size="12.5" class="b">Sampling</text>
<text x="1525" y="561" text-anchor="middle" font-size="12.5" class="b">Number</text>
<g stroke="#111" stroke-width="1.3" fill="none">
<polyline points="900,533 900,589 1464,589 1464,531" marker-end="url(#ar)"/>
<line x1="1555" y1="434" x2="1586" y2="434" marker-end="url(#ar)"/>
</g>
<rect x="1588" y="393" width="30" height="84" rx="4" fill="#fff" stroke="#222" stroke-dasharray="1.5,1.5"/>
<rect x="1592" y="397" width="22" height="21" fill="#f6cccc" stroke="#e09090"/>
<rect x="1592" y="423" width="22" height="21" fill="#fdf0c8" stroke="#f0d890"/>
<rect x="1592" y="449" width="22" height="21" fill="#f9d3a8" stroke="#e0a060"/>
<text x="1170" y="632" text-anchor="middle" font-size="29" class="t">(c) Local-info Mining</text>
</svg>
</body></html>
